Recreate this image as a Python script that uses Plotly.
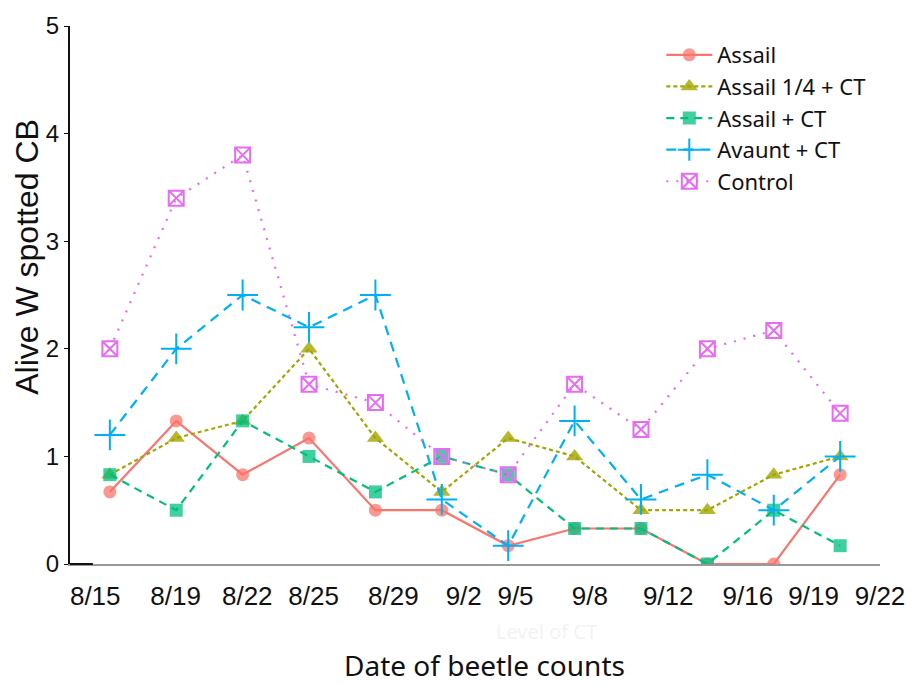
import plotly.graph_objects as go

dates = ["8/15", "8/19", "8/22", "8/25", "8/29", "9/2", "9/5", "9/8", "9/12", "9/16", "9/19", "9/22"]

assail = [0.67, 1.33, 0.83, 1.17, 0.5, 0.5, 0.17, 0.33, 0.33, 0.0, 0.0, 0.83]
assail_q_ct = [0.83, 1.17, 1.33, 2.0, 1.17, 0.67, 1.17, 1.0, 0.5, 0.5, 0.83, 1.0]
assail_ct = [0.83, 0.5, 1.33, 1.0, 0.67, 1.0, 0.83, 0.33, 0.33, 0.0, 0.5, 0.17]
avaunt_ct = [1.2, 2.0, 2.5, 2.2, 2.5, 0.6, 0.17, 1.33, 0.6, 0.83, 0.5, 1.0]
control = [2.0, 3.4, 3.8, 1.67, 1.5, 1.0, 0.83, 1.67, 1.25, 2.0, 2.17, 1.4]

y_ticks = [0, 1, 2, 3, 4, 5]
# label positions (the original figure's date labels are offset from the points)
label_pos = [-0.22, 0.99, 2.07, 3.07, 4.27, 5.33, 6.11, 7.23, 8.41, 9.61, 10.60, 11.60]

xi = list(range(len(dates)))

series = [
    ("Assail", assail, "#F8766D", "solid", "circle", 13, "rgba(248,118,109,0.75)"),
    ("Assail 1/4 + CT", assail_q_ct, "#A3A500", "4px,3px", "triangle-up", 15, "rgba(163,165,0,0.8)"),
    ("Assail + CT", assail_ct, "#00BF7D", "8px,6px", "square", 13, "rgba(0,191,125,0.75)"),
    ("Avaunt + CT", avaunt_ct, "#00B0F6", "10px,7px", "cross-thin-open", 22, "#00B0F6"),
    ("Control", control, "#E76BF3", "2px,8px", "square-x-open", 15, "#E76BF3"),
]

fig = go.Figure()
for name, vals, col, dash, sym, size, mcol in series:
    fig.add_trace(go.Scatter(
        x=xi, y=vals, name=name, mode="lines+markers", legendgroup=name,
        line=dict(color=col, width=2.2, dash=dash),
        marker=dict(symbol=sym, size=size, color=mcol,
                    line=dict(color=mcol, width=2 if "open" in sym else 0)),
    ))

fig.update_layout(
    width=917, height=685,
    margin=dict(l=70, r=32, t=18, b=121),
    plot_bgcolor="white", paper_bgcolor="white",
    font=dict(family="Liberation Sans, Arial, sans-serif", size=24, color="#111"),
    showlegend=True,
    legend=dict(x=0.73, y=0.985, xanchor="left", yanchor="top", traceorder="grouped",
                font=dict(family="Noto Sans, sans-serif", size=22, color="#111"),
                bgcolor="rgba(0,0,0,0)", itemwidth=46, tracegroupgap=0),
    xaxis=dict(range=[-0.6, 11.6], tickmode="array", tickvals=label_pos, ticktext=dates,
               showgrid=False, zeroline=False, showline=True, linecolor="#999", linewidth=2,
               ticks="", ticklabelstandoff=8, tickfont=dict(size=26)),
    yaxis=dict(range=[0, 5], tickmode="array", tickvals=y_ticks, showgrid=False, zeroline=False,
               showline=True, linecolor="#111", linewidth=2, ticks="outside", ticklen=4,
               tickcolor="#111", tickfont=dict(size=24)),
    annotations=[
        dict(text="Level of CT", xref="paper", yref="paper", x=(549 - 70) / 815, y=0,
             yshift=-67, yanchor="middle", xanchor="center", showarrow=False,
             font=dict(family="Noto Sans, sans-serif", size=20, color="#f3f3f3")),
        dict(text="Date of beetle counts", xref="paper", yref="paper", x=(487 - 70) / 815, y=0,
             yshift=-101, yanchor="middle", xanchor="center", showarrow=False,
             font=dict(family="Noto Sans, sans-serif", size=28, color="#111")),
        dict(text="Alive W spotted CB", xref="paper", yref="paper", x=0, y=0.571,
             xshift=-43, xanchor="center", yanchor="middle", textangle=-90, showarrow=False,
             font=dict(family="Liberation Sans, Arial, sans-serif", size=32, color="#111")),
    ],
)
fig.add_shape(type="line", xref="paper", yref="paper", x0=0, x1=23 / 815, y0=0, y1=0,
              line=dict(color="#111", width=2))

fig.write_html("out.html")
